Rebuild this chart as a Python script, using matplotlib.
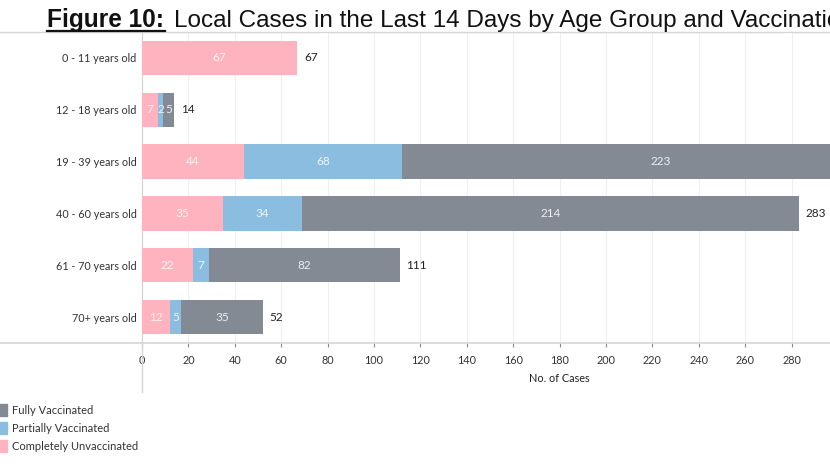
import matplotlib
matplotlib.use("Agg")
import matplotlib.pyplot as plt
from matplotlib.patches import Rectangle
from matplotlib.lines import Line2D

categories = ["0 - 11 years old", "12 - 18 years old", "19 - 39 years old",
              "40 - 60 years old", "61 - 70 years old", "70+ years old"]
unvaccinated = [67, 7, 44, 35, 22, 12]
partially = [0, 2, 68, 34, 7, 5]
fully = [0, 5, 223, 214, 82, 35]
xticks = list(range(0, 281, 20))
series_names = ["Fully Vaccinated", "Partially Vaccinated", "Completely Unvaccinated"]
title_bold = "Figure 10:"
title_rest = "Local Cases in the Last 14 Days by Age Group and Vaccination Status"

c_un = "#ffb3bf"
c_pa = "#8bbde0"
c_fu = "#848a94"

W, H = 830, 468
fig = plt.figure(figsize=(W / 100, H / 100), dpi=100)
plt.rcParams['font.family'] = ['Lato', 'DejaVu Sans']

pxu = 2.32
x0 = 142
xmax = 360
top, bot = 32, 343
ax = fig.add_axes([x0 / W, (H - bot) / H, xmax * pxu / W, (bot - top) / H])

ys = list(range(len(categories)))
bh = 0.66
ax.barh(ys, unvaccinated, height=bh, color=c_un, zorder=3)
ax.barh(ys, partially, left=unvaccinated, height=bh, color=c_pa, zorder=3)
lefts3 = [a + b for a, b in zip(unvaccinated, partially)]
ax.barh(ys, fully, left=lefts3, height=bh, color=c_fu, zorder=3)

for i in ys:
    segs = [(0, unvaccinated[i]), (unvaccinated[i], partially[i]), (lefts3[i], fully[i])]
    for left, v in segs:
        if v > 0:
            ax.text(left + v / 2, i, str(v), ha="center", va="center",
                    color="white", fontsize=8.5, alpha=0.85, zorder=4)
    total = unvaccinated[i] + partially[i] + fully[i]
    if (x0 + (total + 3) * pxu) < W - 20:
        ax.text(total + 3, i, str(total), ha="left", va="center", color="#222222",
                fontsize=8.5, zorder=4)

ax.set_xlim(0, xmax)
ax.set_ylim(len(categories) - 0.5, -0.5)
ax.set_yticks(ys)
ax.set_yticklabels(categories, fontsize=7.8, color="#333333")
ax.set_xticks(xticks)
ax.set_xticklabels([str(t) for t in xticks], fontsize=7.8, color="#333333")
ax.tick_params(axis="y", length=0, pad=4)
ax.tick_params(axis="x", length=3, color="#888888", pad=6)
for s in ["top", "right", "bottom"]:
    ax.spines[s].set_visible(False)
ax.spines["left"].set_color("#d0d0d0")
ax.grid(axis="x", color="#efefef", linewidth=0.8, zorder=0)
ax.set_axisbelow(True)
ax.set_xlabel("No. of Cases", fontsize=7.8, color="#222222", labelpad=5)

# full-width horizontal lines and extended vertical axis line
fig.add_artist(Line2D([0, 1], [(H - top) / H] * 2, color="#d6d6d6", lw=1))
fig.add_artist(Line2D([0, 1], [(H - bot) / H] * 2, color="#d6d6d6", lw=1.2))
fig.add_artist(Line2D([x0 / W] * 2, [(H - bot) / H, (H - 392) / H], color="#d6d6d6", lw=1))

# title
tfam = ["Liberation Sans", "DejaVu Sans"]
base_y = (H - 27) / H
tb = fig.text(47 / W, base_y, title_bold, fontsize=15, fontweight="bold",
              family=tfam, color="#111111", va="baseline")
tr = fig.text(174 / W, base_y, title_rest, fontsize=15, family=tfam,
              color="#111111", va="baseline")
fig.canvas.draw()
r = fig.canvas.get_renderer()
wb = tb.get_window_extent(r).width
tb.set_fontsize(15 * 118 / wb)
probe = fig.text(0, 0, "Local Cases in the Last 14 Days by Age Group and Vaccinati",
                 fontsize=15, family=tfam)
wp = probe.get_window_extent(r).width
probe.remove()
tr.set_fontsize(15 * 656 / wp)
fig.add_artist(Line2D([47 / W, 165 / W], [(H - 31) / H] * 2, color="#111111", lw=1.6))

# legend
leg_colors = [c_fu, c_pa, c_un]
for k, (name, col) in enumerate(zip(series_names, leg_colors)):
    yc = 410 + 18 * k
    fig.add_artist(Rectangle((-3 / W, (H - yc - 6) / H), 10 / W, 12 / H,
                             color=col, transform=fig.transFigure))
    fig.text(12 / W, (H - yc) / H, name, fontsize=8, va="center", color="#333333")

fig.savefig("out.png", dpi=100)
